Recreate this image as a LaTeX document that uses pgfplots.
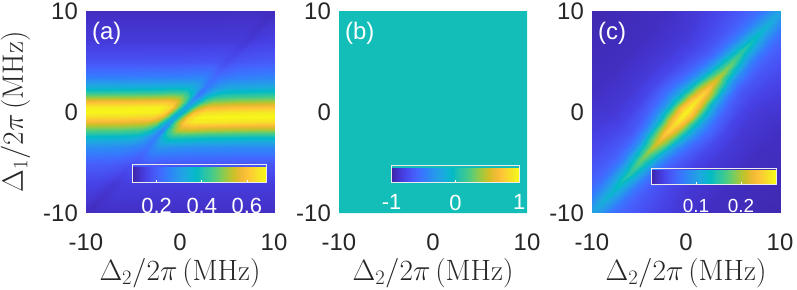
\RequirePackage{fix-cm}
\documentclass[border=0pt]{standalone}
\usepackage[no-math]{fontspec}
\setmainfont{Liberation Sans}
\usepackage{pgfplots}
\pgfplotsset{compat=1.18}
\usetikzlibrary{calc}
\pgfplotsset{
  colormap={parula}{
    rgb=(0.2422,0.1504,0.6603) rgb=(0.2647,0.1978,0.7952) rgb=(0.2783,0.2559,0.8991)
    rgb=(0.2810,0.3228,0.9579) rgb=(0.2699,0.3892,0.9906) rgb=(0.2206,0.4603,0.9973)
    rgb=(0.1786,0.5289,0.9682) rgb=(0.1540,0.5902,0.9218) rgb=(0.1248,0.6459,0.8883)
    rgb=(0.0689,0.6948,0.8394) rgb=(0.0067,0.7312,0.7660) rgb=(0.1408,0.7584,0.6842)
    rgb=(0.2161,0.7843,0.5923) rgb=(0.3406,0.8008,0.4789) rgb=(0.5044,0.7993,0.3480)
    rgb=(0.6720,0.7793,0.2227) rgb=(0.8203,0.7498,0.1535) rgb=(0.9393,0.7288,0.2100)
    rgb=(0.9970,0.7659,0.2199) rgb=(0.9786,0.8386,0.1766) rgb=(0.9597,0.9135,0.1423)
    rgb=(0.9769,0.9839,0.0805)
  },
}
\newcommand\tickfont{\fontsize{24}{28}\selectfont}
\newcommand\cbfont{\fontsize{22}{26}\selectfont}
\newcommand\cbfontc{\fontsize{19}{22}\selectfont}
\newcommand\labfont{\fontsize{29.5}{34}\selectfont}
\newcommand\panfont{\fontsize{24}{28}\selectfont}
\definecolor{axtext}{rgb}{0.15,0.15,0.15}
\pgfplotsset{
  panel/.style={
    anchor=south west, scale only axis, width=188bp, height=202bp,
    view={0}{90}, xmin=-10, xmax=10, ymin=-10, ymax=10,
    xtick={-10,0,10}, ytick={-10,0,10},
    xticklabels={-10,0,10}, yticklabels={-10,0,10},
    ztick=\empty,
    major tick length=0pt,
    tick label style={font=\tickfont, text=axtext, inner sep=0pt},
    xticklabel style={anchor=north},
    yticklabel style={anchor=east},
    xticklabel shift=21bp, yticklabel shift=8bp,
    axis line style={draw=none},
    colormap name=parula,
    every axis x label/.style={at={(axis description cs:0.5,-0.3317)}, anchor=base, font=\labfont, text=axtext},
    every axis y label/.style={at={(axis description cs:-0.375,0.5)}, rotate=90, anchor=center, font=\labfont, text=axtext},
    xlabel={$\Delta_2/2\pi\,(\mathrm{MHz})$},
    colorbar horizontal,
  },
  cbbase/.style={
    anchor=south west, scale only axis,
    ytick=\empty,
    xtick pos=left, xticklabel pos=left,
    tick align=inside, major tick length=2.5bp,
    xtick style={white, line width=0.6pt},
    axis line style={draw=white!85!gray, line width=0.8pt},
    xticklabel style={text=white, inner sep=0pt, anchor=north},
  },
}
\begin{document}
\begin{tikzpicture}
\useasboundingbox (0,0) rectangle (797bp,290bp);
% ---------------- (a)
\begin{axis}[panel, at={(86bp,77bp)},
  ylabel={$\Delta_1/2\pi\,(\mathrm{MHz})$},
  point meta min=0.093, point meta max=0.686,
  colorbar style={cbbase,
    at={($(parent axis.south west)+(46.5bp,39.5bp)$)},
    width=133.8bp, height=17.5bp,
    xtick={0.2,0.4,0.6}, xticklabels={0.2,0.4,0.6},
    xticklabel style={font=\cbfont}, xticklabel shift=15.5bp}]
\addplot3[surf, shader=interp, mesh/rows=18, mesh/cols=15] coordinates {
(-30,-10,0.124) (-20,-10,0.124) (-15,-10,0.123) (-12.5,-10,0.123) (-11.5,-10,0.121) (-10.8,-10,0.117) (-10.3,-10,0.111) (-10,-10,0.108) (-9.7,-10,0.110) (-9.2,-10,0.113) (-8.5,-10,0.116) (-7.5,-10,0.116) (-5,-10,0.115) (0,-10,0.115) (10,-10,0.115)
(-27,-7,0.154) (-17,-7,0.154) (-12,-7,0.153) (-9.5,-7,0.152) (-8.5,-7,0.149) (-7.8,-7,0.142) (-7.3,-7,0.135) (-7,-7,0.131) (-6.7,-7,0.134) (-6.2,-7,0.140) (-5.5,-7,0.144) (-4.5,-7,0.143) (-2,-7,0.142) (3,-7,0.141) (13,-7,0.141)
(-25,-5,0.202) (-15,-5,0.202) (-10,-5,0.201) (-7.5,-5,0.198) (-6.5,-5,0.192) (-5.8,-5,0.186) (-5.3,-5,0.180) (-5,-5,0.175) (-4.7,-5,0.180) (-4.2,-5,0.188) (-3.5,-5,0.195) (-2.5,-5,0.192) (0,-5,0.189) (5,-5,0.187) (15,-5,0.187)
(-23.5,-3.5,0.278) (-13.5,-3.5,0.277) (-8.5,-3.5,0.275) (-6,-3.5,0.269) (-5,-3.5,0.258) (-4.3,-3.5,0.250) (-3.8,-3.5,0.240) (-3.5,-3.5,0.235) (-3.2,-3.5,0.248) (-2.7,-3.5,0.275) (-2,-3.5,0.291) (-1,-3.5,0.284) (1.5,-3.5,0.276) (6.5,-3.5,0.269) (16.5,-3.5,0.270)
(-22.5,-2.5,0.367) (-12.5,-2.5,0.366) (-7.5,-2.5,0.362) (-5,-2.5,0.353) (-4,-2.5,0.326) (-3.3,-2.5,0.285) (-2.8,-2.5,0.255) (-2.5,-2.5,0.262) (-2.2,-2.5,0.300) (-1.7,-2.5,0.372) (-1,-2.5,0.408) (0,-2.5,0.406) (2.5,-2.5,0.392) (7.5,-2.5,0.381) (17.5,-2.5,0.382)
(-21.75,-1.75,0.463) (-11.75,-1.75,0.462) (-6.75,-1.75,0.457) (-4.25,-1.75,0.444) (-3.25,-1.75,0.406) (-2.55,-1.75,0.321) (-2.05,-1.75,0.262) (-1.75,-1.75,0.275) (-1.45,-1.75,0.382) (-0.95,-1.75,0.457) (-0.25,-1.75,0.531) (0.75,-1.75,0.541) (3.25,-1.75,0.524) (8.25,-1.75,0.509) (18.25,-1.75,0.511)
(-21,-1,0.576) (-11,-1,0.575) (-6,-1,0.570) (-3.5,-1,0.555) (-2.5,-1,0.507) (-1.8,-1,0.398) (-1.3,-1,0.315) (-1,-1,0.300) (-0.7,-1,0.406) (-0.2,-1,0.516) (0.5,-1,0.628) (1.5,-1,0.659) (4,-1,0.652) (9,-1,0.641) (19,-1,0.643)
(-20.5,-0.5,0.642) (-10.5,-0.5,0.641) (-5.5,-0.5,0.637) (-3,-0.5,0.625) (-2,-0.5,0.575) (-1.3,-0.5,0.452) (-0.8,-0.5,0.350) (-0.5,-0.5,0.320) (-0.2,-0.5,0.390) (0.3,-0.5,0.503) (1,-0.5,0.628) (2,-0.5,0.675) (4.5,-0.5,0.680) (9.5,-0.5,0.680) (19.5,-0.5,0.680)
(-20,0,0.678) (-10,0,0.678) (-5,0,0.676) (-2.5,0,0.670) (-1.5,0,0.622) (-0.8,0,0.496) (-0.3,0,0.385) (0,0,0.330) (0.3,0,0.360) (0.8,0,0.462) (1.5,0,0.586) (2.5,0,0.640) (5,0,0.653) (10,0,0.660) (20,0,0.659)
(-19.5,0.5,0.663) (-9.5,0.5,0.664) (-4.5,0.5,0.667) (-2,0.5,0.670) (-1,0.5,0.632) (-0.3,0.5,0.516) (0.2,0.5,0.405) (0.5,0.5,0.320) (0.8,0.5,0.330) (1.3,0.5,0.409) (2,0.5,0.521) (3,0.5,0.575) (5.5,0.5,0.591) (10.5,0.5,0.602) (20.5,0.5,0.601)
(-19,1,0.592) (-9,1,0.594) (-4,1,0.599) (-1.5,1,0.610) (-0.5,1,0.587) (0.2,1,0.496) (0.7,1,0.403) (1,1,0.300) (1.3,1,0.295) (1.8,1,0.355) (2.5,1,0.451) (3.5,1,0.499) (6,1,0.516) (11,1,0.529) (21,1,0.527)
(-18.5,1.5,0.497) (-8.5,1.5,0.499) (-3.5,1.5,0.505) (-1,1.5,0.518) (0,1.5,0.504) (0.7,1.5,0.438) (1.2,1.5,0.369) (1.5,1.5,0.270) (1.8,1.5,0.260) (2.3,1.5,0.310) (3,1.5,0.387) (4,1.5,0.428) (6.5,1.5,0.443) (11.5,1.5,0.455) (21.5,1.5,0.453)
(-18,2,0.410) (-8,2,0.411) (-3,2,0.416) (-0.5,2,0.428) (0.5,2,0.419) (1.2,2,0.370) (1.7,2,0.320) (2,2,0.240) (2.3,2,0.232) (2.8,2,0.272) (3.5,2,0.333) (4.5,2,0.367) (7,2,0.379) (12,2,0.389) (22,2,0.387)
(-17.5,2.5,0.339) (-7.5,2.5,0.340) (-2.5,2.5,0.344) (0,2.5,0.353) (1,2.5,0.350) (1.7,2.5,0.325) (2.2,2.5,0.285) (2.5,2.5,0.245) (2.8,2.5,0.240) (3.3,2.5,0.262) (4,2.5,0.295) (5,2.5,0.317) (7.5,2.5,0.327) (12.5,2.5,0.335) (22.5,2.5,0.334)
(-16.5,3.5,0.246) (-6.5,3.5,0.247) (-1.5,3.5,0.249) (1,3.5,0.253) (2,3.5,0.257) (2.7,3.5,0.252) (3.2,3.5,0.235) (3.5,3.5,0.222) (3.8,3.5,0.222) (4.3,3.5,0.232) (5,3.5,0.238) (6,3.5,0.246) (8.5,3.5,0.253) (13.5,3.5,0.258) (23.5,3.5,0.257)
(-15,5,0.176) (-5,5,0.176) (0,5,0.177) (2.5,5,0.179) (3.5,5,0.180) (4.2,5,0.177) (4.7,5,0.170) (5,5,0.165) (5.3,5,0.170) (5.8,5,0.178) (6.5,5,0.182) (7.5,5,0.186) (10,5,0.190) (15,5,0.193) (25,5,0.192)
(-13,7,0.137) (-3,7,0.137) (2,7,0.137) (4.5,7,0.138) (5.5,7,0.138) (6.2,7,0.138) (6.7,7,0.134) (7,7,0.130) (7.3,7,0.133) (7.8,7,0.141) (8.5,7,0.144) (9.5,7,0.147) (12,7,0.148) (17,7,0.149) (27,7,0.149)
(-10,10,0.113) (0,10,0.113) (5,10,0.114) (7.5,10,0.114) (8.5,10,0.114) (9.2,10,0.113) (9.7,10,0.110) (10,10,0.108) (10.3,10,0.110) (10.8,10,0.116) (11.5,10,0.119) (12.5,10,0.121) (15,10,0.121) (20,10,0.122) (30,10,0.122)
};
\node[anchor=west, inner sep=0pt, text=white, font=\panfont] at (axis description cs:0.032,0.89) {(a)};
\end{axis}
% ---------------- (b)
\begin{axis}[panel, at={(339bp,77bp)},
  point meta min=-1, point meta max=1,
  colorbar style={cbbase,
    at={($(parent axis.south west)+(52.5bp,39bp)$)},
    width=127.8bp, height=17bp,
    xtick={-1,0,1}, xticklabels={-1,0,1},
    xticklabel style={font=\cbfont}, xticklabel shift=12bp}]
\addplot3[surf, shader=flat, mesh/rows=2, mesh/cols=2] coordinates {
(-10,-10,0) (10,-10,0)
(-10,10,0) (10,10,0)
};
\node[anchor=west, inner sep=0pt, text=white, font=\panfont] at (axis description cs:0.032,0.89) {(b)};
\end{axis}
% ---------------- (c)
\begin{axis}[panel, at={(592bp,77bp)},
  point meta min=0, point meta max=0.278,
  colorbar style={cbbase,
    at={($(parent axis.south west)+(59bp,37bp)$)},
    width=125bp, height=16bp,
    xtick={0.1,0.2}, xticklabels={0.1,0.2},
    xticklabel style={font=\cbfontc}, xticklabel shift=14.5bp}]
\addplot3[surf, shader=interp, mesh/rows=15, mesh/cols=17] coordinates {
(0,-20,0.008) (-4,-16,0.019) (-6,-14,0.031) (-7,-13,0.040) (-8,-12,0.051) (-8.5,-11.5,0.058) (-9,-11,0.067) (-9.5,-10.5,0.084) (-10,-10,0.105) (-10.5,-9.5,0.084) (-11,-9,0.067) (-11.5,-8.5,0.058) (-12,-8,0.051) (-13,-7,0.040) (-14,-6,0.031) (-16,-4,0.019) (-20,0,0.008)
(2,-18,0.007) (-2,-14,0.016) (-4,-12,0.027) (-5,-11,0.035) (-6,-10,0.046) (-6.5,-9.5,0.054) (-7,-9,0.067) (-7.5,-8.5,0.094) (-8,-8,0.125) (-8.5,-7.5,0.094) (-9,-7,0.067) (-9.5,-6.5,0.054) (-10,-6,0.046) (-11,-5,0.035) (-12,-4,0.027) (-14,-2,0.016) (-18,2,0.007)
(4,-16,0.006) (0,-12,0.014) (-2,-10,0.023) (-3,-9,0.031) (-4,-8,0.043) (-4.5,-7.5,0.053) (-5,-7,0.072) (-5.5,-6.5,0.112) (-6,-6,0.155) (-6.5,-5.5,0.112) (-7,-5,0.072) (-7.5,-4.5,0.053) (-8,-4,0.043) (-9,-3,0.031) (-10,-2,0.023) (-12,0,0.014) (-16,4,0.006)
(6,-14,0.005) (2,-10,0.010) (0,-8,0.018) (-1,-7,0.026) (-2,-6,0.041) (-2.5,-5.5,0.056) (-3,-5,0.085) (-3.5,-4.5,0.142) (-4,-4,0.195) (-4.5,-3.5,0.142) (-5,-3,0.085) (-5.5,-2.5,0.056) (-6,-2,0.041) (-7,-1,0.026) (-8,0,0.018) (-10,2,0.010) (-14,6,0.005)
(7,-13,0.004) (3,-9,0.010) (1,-7,0.018) (0,-6,0.027) (-1,-5,0.046) (-1.5,-4.5,0.066) (-2,-4,0.103) (-2.5,-3.5,0.170) (-3,-3,0.223) (-3.5,-2.5,0.170) (-4,-2,0.103) (-4.5,-1.5,0.066) (-5,-1,0.046) (-6,0,0.027) (-7,1,0.018) (-9,3,0.010) (-13,7,0.004)
(8,-12,0.004) (4,-8,0.009) (2,-6,0.018) (1,-5,0.028) (0,-4,0.052) (-0.5,-3.5,0.077) (-1,-3,0.122) (-1.5,-2.5,0.196) (-2,-2,0.248) (-2.5,-1.5,0.196) (-3,-1,0.122) (-3.5,-0.5,0.077) (-4,0,0.052) (-5,1,0.028) (-6,2,0.018) (-8,4,0.009) (-12,8,0.004)
(9,-11,0.004) (5,-7,0.009) (3,-5,0.019) (2,-4,0.031) (1,-3,0.060) (0.5,-2.5,0.090) (0,-2,0.141) (-0.5,-1.5,0.218) (-1,-1,0.266) (-1.5,-0.5,0.218) (-2,0,0.141) (-2.5,0.5,0.090) (-3,1,0.060) (-4,2,0.031) (-5,3,0.019) (-7,5,0.009) (-11,9,0.004)
(10,-10,0.003) (6,-6,0.009) (4,-4,0.019) (3,-3,0.033) (2,-2,0.064) (1.5,-1.5,0.096) (1,-1,0.151) (0.5,-0.5,0.228) (0,0,0.275) (-0.5,0.5,0.228) (-1,1,0.151) (-1.5,1.5,0.096) (-2,2,0.064) (-3,3,0.033) (-4,4,0.019) (-6,6,0.009) (-10,10,0.003)
(11,-9,0.004) (7,-5,0.009) (5,-3,0.019) (4,-2,0.031) (3,-1,0.060) (2.5,-0.5,0.090) (2,0,0.141) (1.5,0.5,0.218) (1,1,0.266) (0.5,1.5,0.218) (0,2,0.141) (-0.5,2.5,0.090) (-1,3,0.060) (-2,4,0.031) (-3,5,0.019) (-5,7,0.009) (-9,11,0.004)
(12,-8,0.004) (8,-4,0.009) (6,-2,0.018) (5,-1,0.028) (4,0,0.052) (3.5,0.5,0.077) (3,1,0.122) (2.5,1.5,0.196) (2,2,0.248) (1.5,2.5,0.196) (1,3,0.122) (0.5,3.5,0.077) (0,4,0.052) (-1,5,0.028) (-2,6,0.018) (-4,8,0.009) (-8,12,0.004)
(13,-7,0.004) (9,-3,0.010) (7,-1,0.018) (6,0,0.027) (5,1,0.046) (4.5,1.5,0.066) (4,2,0.103) (3.5,2.5,0.170) (3,3,0.223) (2.5,3.5,0.170) (2,4,0.103) (1.5,4.5,0.066) (1,5,0.046) (0,6,0.027) (-1,7,0.018) (-3,9,0.010) (-7,13,0.004)
(14,-6,0.005) (10,-2,0.010) (8,0,0.018) (7,1,0.026) (6,2,0.041) (5.5,2.5,0.056) (5,3,0.085) (4.5,3.5,0.142) (4,4,0.195) (3.5,4.5,0.142) (3,5,0.085) (2.5,5.5,0.056) (2,6,0.041) (1,7,0.026) (0,8,0.018) (-2,10,0.010) (-6,14,0.005)
(16,-4,0.006) (12,0,0.014) (10,2,0.023) (9,3,0.031) (8,4,0.043) (7.5,4.5,0.053) (7,5,0.072) (6.5,5.5,0.112) (6,6,0.155) (5.5,6.5,0.112) (5,7,0.072) (4.5,7.5,0.053) (4,8,0.043) (3,9,0.031) (2,10,0.023) (0,12,0.014) (-4,16,0.006)
(18,-2,0.007) (14,2,0.016) (12,4,0.027) (11,5,0.035) (10,6,0.046) (9.5,6.5,0.054) (9,7,0.067) (8.5,7.5,0.094) (8,8,0.125) (7.5,8.5,0.094) (7,9,0.067) (6.5,9.5,0.054) (6,10,0.046) (5,11,0.035) (4,12,0.027) (2,14,0.016) (-2,18,0.007)
(20,0,0.008) (16,4,0.019) (14,6,0.031) (13,7,0.040) (12,8,0.051) (11.5,8.5,0.058) (11,9,0.067) (10.5,9.5,0.084) (10,10,0.105) (9.5,10.5,0.084) (9,11,0.067) (8.5,11.5,0.058) (8,12,0.051) (7,13,0.040) (6,14,0.031) (4,16,0.019) (0,20,0.008)
};
\node[anchor=west, inner sep=0pt, text=white, font=\panfont] at (axis description cs:0.032,0.89) {(c)};
\end{axis}
\end{tikzpicture}
\end{document}
